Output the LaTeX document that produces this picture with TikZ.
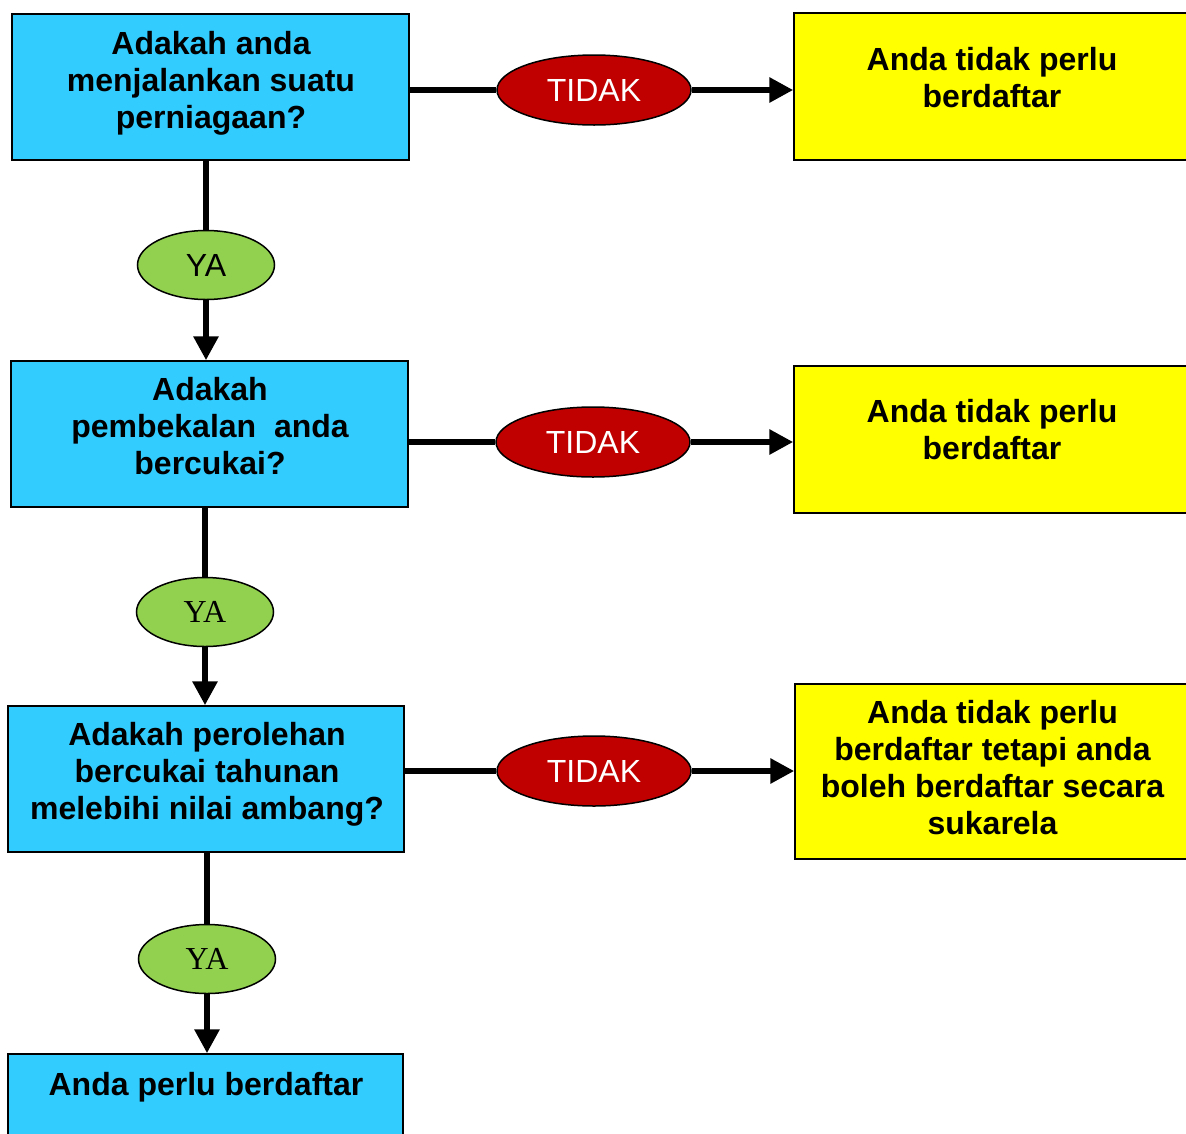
\documentclass[tikz,border=0pt]{standalone}
\usepackage{fontspec}
\setmainfont{Liberation Sans}
\newfontfamily\yaserif{Liberation Serif}
\usetikzlibrary{arrows.meta,shapes.geometric}
\definecolor{boxblue}{HTML}{33CCFF}
\definecolor{boxyellow}{HTML}{FFFF00}
\definecolor{tidakred}{HTML}{C00000}
\definecolor{yagreen}{HTML}{92D050}
\newcommand\fsz{\fontsize{32}{37}\selectfont}
\newcommand\topst{\rule{0pt}{24pt}}
\newcommand\botst{\rule[-24pt]{0pt}{24pt}}
\tikzset{
  qbox/.style={draw=black, line width=1.5pt, fill=boxblue, inner sep=0pt},
  abox/.style={draw=black, line width=1.5pt, fill=boxyellow, inner sep=0pt},
  txt/.style={font=\fsz\bfseries, align=center, inner sep=0pt, text=black},
  noell/.style={ellipse, draw=black, line width=1.5pt, fill=tidakred, text=white, font=\fsz, minimum width=194pt, minimum height=70pt, inner sep=0pt},
  yaell/.style={ellipse, draw=black, line width=1.5pt, fill=yagreen, text=black, font=\fsz, minimum width=137pt, minimum height=69pt, inner sep=0pt},
  conn/.style={line width=6pt, draw=black},
  arr/.style={conn, -{Triangle[length=24pt,width=24pt]}}
}
\begin{document}
\begin{tikzpicture}[x=1pt,y=-1pt]
\useasboundingbox (0,0) rectangle (1186,1133);
\clip (0,0) rectangle (1186,1133);
% question boxes
\node[qbox, minimum width=397pt, minimum height=146pt] (b1) at (210.5,87) {};
\node[qbox, minimum width=397pt, minimum height=146pt] (b2) at (209.5,434) {};
\node[qbox, minimum width=396pt, minimum height=146pt] (b3) at (206,779) {};
\node[qbox, minimum width=395pt, minimum height=146pt] (b4) at (205.5,1127) {};
% answer boxes
\node[abox, minimum width=396pt, minimum height=147pt] (y1) at (992,86.5) {};
\node[abox, minimum width=396pt, minimum height=147pt] (y2) at (992,439.5) {};
\node[abox, minimum width=395pt, minimum height=175pt] (y3) at (992.5,771.5) {};
% texts
\node[txt] (t1) at (211,91) {\topst Adakah anda\\menjalankan suatu\\perniagaan?\botst};
\node[txt] (t2) at (210,437.5) {\topst Adakah\\pembekalan\ \ anda\\bercukai?\botst};
\node[txt] (t3) at (207,782.5) {\topst Adakah perolehan\\bercukai tahunan\\melebihi nilai ambang?\botst};
\node[txt] (t4) at (206,1095.5) {\topst Anda perlu berdaftar\botst};
\node[txt] (u1) at (992,88.5) {\topst Anda tidak perlu\\berdaftar\botst};
\node[txt] (u2) at (992,441) {\topst Anda tidak perlu\\berdaftar\botst};
\node[txt] (u3) at (992.5,779) {\topst Anda tidak perlu\\berdaftar tetapi anda\\boleh berdaftar secara\\sukarela\botst};
% ellipses
\node[noell] (e1) at (594,90) {TIDAK};
\node[noell] (e2) at (593,442) {TIDAK};
\node[noell] (e3) at (594,771) {TIDAK};
\node[yaell] (g1) at (206,265) {YA};
\node[yaell, font=\fsz\yaserif] (g2) at (205,612) {YA};
\node[yaell, font=\fsz\yaserif] (g3) at (207,959) {YA};
% connectors
\draw[conn] (g1 |- b1.south) -- (g1.north);
\draw[arr] (g1.south) -- (g1 |- b2.north);
\draw[conn] (g2 |- b2.south) -- (g2.north);
\draw[arr] (g2.south) -- (g2 |- b3.north);
\draw[conn] (g3 |- b3.south) -- (g3.north);
\draw[arr] (g3.south) -- (g3 |- b4.north);
\draw[conn] (b1.east |- e1.center) -- (e1.west);
\draw[arr] (e1.east) -- (e1.center -| y1.west);
\draw[conn] (b2.east |- e2.center) -- (e2.west);
\draw[arr] (e2.east) -- (e2.center -| y2.west);
\draw[conn] (b3.east |- e3.center) -- (e3.west);
\draw[arr] (e3.east) -- (e3.center -| y3.west);
\end{tikzpicture}
\end{document}
